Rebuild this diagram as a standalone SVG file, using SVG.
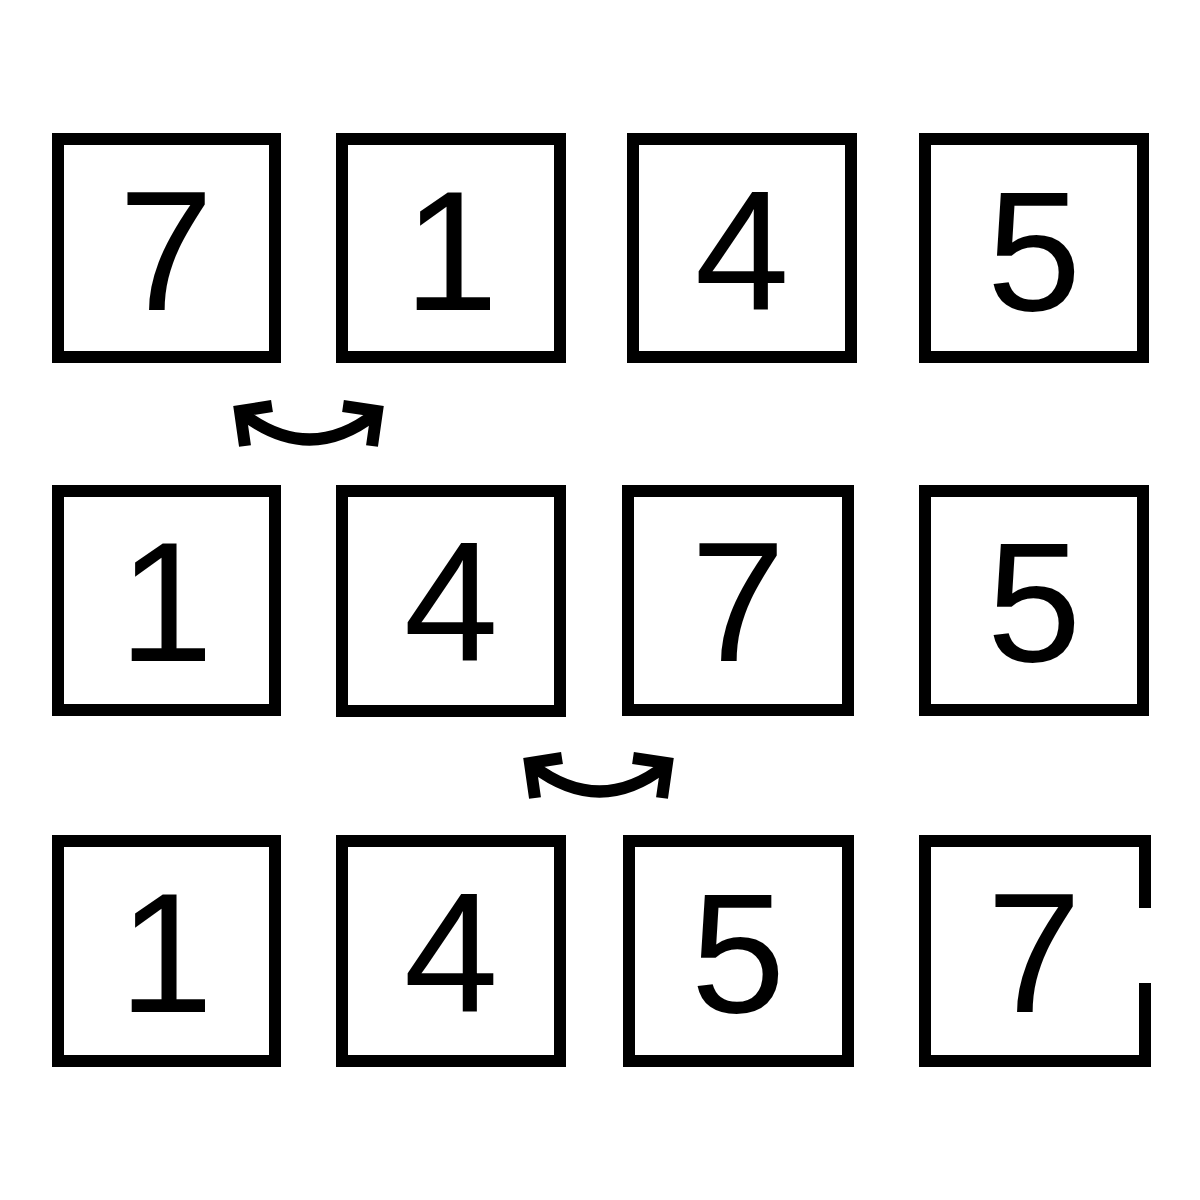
<svg xmlns="http://www.w3.org/2000/svg" width="1200" height="1200" viewBox="0 0 1200 1200">
<style>
.box{fill:none;stroke:#000;stroke-width:12}
.d{font-family:"Liberation Sans","DejaVu Sans",sans-serif;font-size:170px;fill:#000;text-anchor:middle}
.c{fill:none;stroke:#000;stroke-width:12}
</style>
<rect width="1200" height="1200" fill="#fff"/>
<g id="r1n1"><rect class="box" x="58" y="139" width="217" height="218"/><text class="d" x="166" y="310">7</text></g>
<g id="r1n2"><rect class="box" x="342" y="139" width="218" height="218"/><text class="d" x="451" y="310">1</text></g>
<g id="r1n3"><rect class="box" x="633" y="139" width="218" height="218"/><text class="d" x="742" y="310">4</text></g>
<g id="r1n4"><rect class="box" x="925" y="139" width="218" height="218"/><text class="d" x="1034" y="310">5</text></g>
<g id="r2n1"><rect class="box" x="58" y="491" width="217" height="219"/><text class="d" x="166" y="661">1</text></g>
<g id="r2n2"><rect class="box" x="342" y="491" width="218" height="220"/><text class="d" x="451" y="661">4</text></g>
<g id="r2n3"><rect class="box" x="628" y="491" width="220" height="219"/><text class="d" x="738" y="661">7</text></g>
<g id="r2n4"><rect class="box" x="925" y="491" width="218" height="219"/><text class="d" x="1034" y="661">5</text></g>
<g id="r3n1"><rect class="box" x="58" y="841" width="217" height="220"/><text class="d" x="166" y="1012">1</text></g>
<g id="r3n2"><rect class="box" x="342" y="841" width="218" height="220"/><text class="d" x="451" y="1012">4</text></g>
<g id="r3n3"><rect class="box" x="629" y="841" width="219" height="220"/><text class="d" x="738" y="1012">5</text></g>
<g id="r3n4"><path class="box" d="M1145 908 V841 H925 V1061 H1145 V983"/><text class="d" x="1034" y="1012">7</text></g>
<g id="connectors">
<path class="c" d="M243 414 Q310 465 375 414"/>
<polyline class="c" points="272,406 240,411 245,446"/>
<polyline class="c" points="343,406 377,411 372,446"/>
<path class="c" d="M533 766 Q600 817 665 766"/>
<polyline class="c" points="562,758 530,763 535,798"/>
<polyline class="c" points="633,758 667,763 662,798"/>
</g>
</svg>
